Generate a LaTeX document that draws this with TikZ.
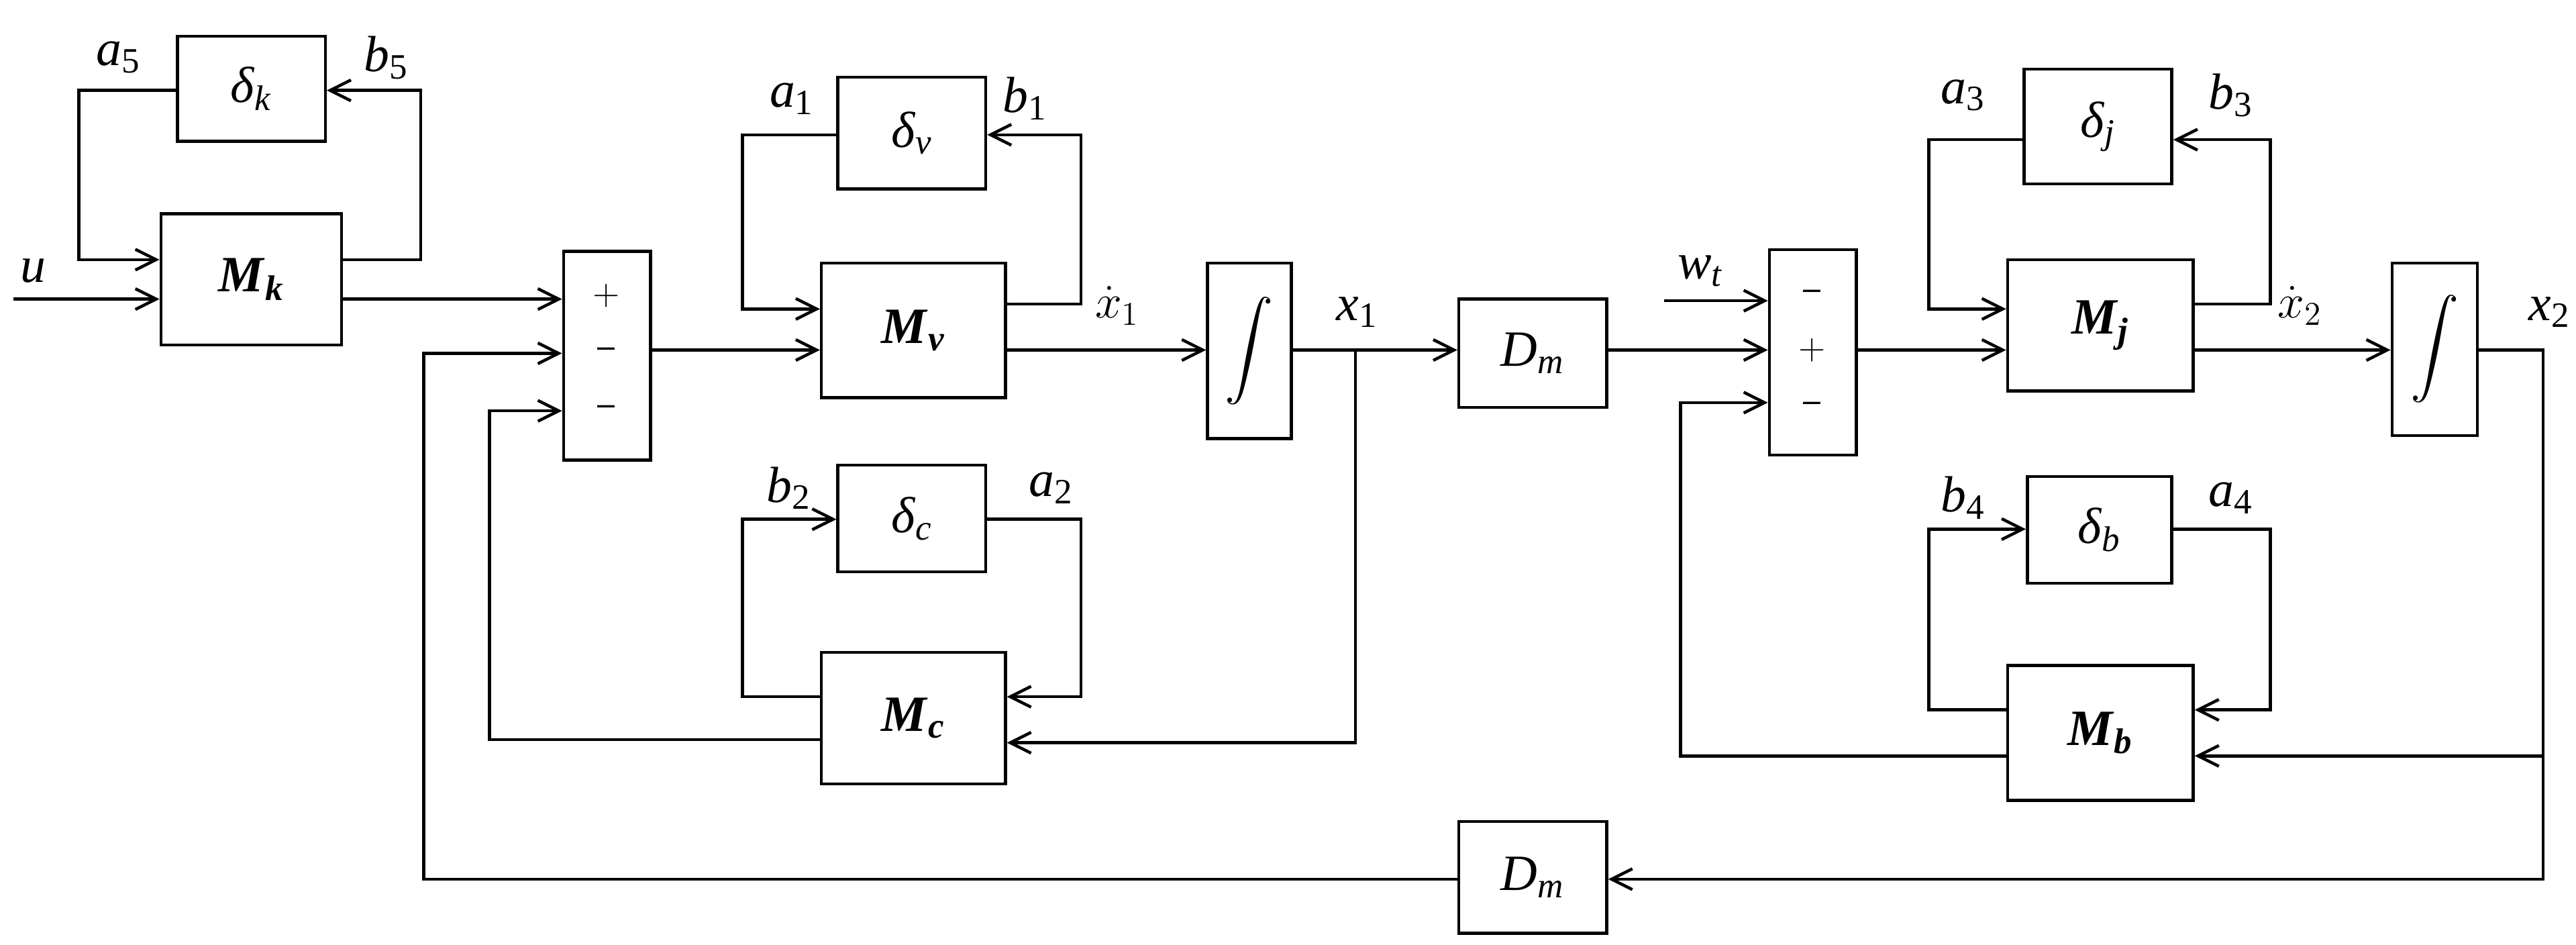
\documentclass[tikz,border=0pt]{standalone}
\usepackage{fontspec}
\setmainfont{Liberation Serif}
\usetikzlibrary{arrows.meta,calc}
\newcommand{\ii}[1]{\textit{#1}}
\newcommand{\bM}[1]{\textbf{\textit{M}}\textsubscript{\textbf{\textit{#1}}}}
\newcommand{\dl}[1]{\textit{δ}\textsubscript{\textit{#1}}}
\newcommand{\lab}[2]{\textit{#1}\textsubscript{#2}}
\newcommand{\bigint}{\scalebox{2.1}{$\displaystyle\int$}}
\begin{document}
\begin{tikzpicture}[x=0.025cm,y=-0.025cm,line width=1.3pt,
  ar/.style={-{Straight Barb[length=9pt,width=9pt]}},
  box/.style={draw,inner sep=0pt,font=\fontsize{22}{26}\selectfont},
  lb/.style={font=\fontsize{22}{26}\selectfont,inner sep=1pt},
  sg/.style={font=\sffamily\fontsize{16}{18}\selectfont}]
\useasboundingbox (0,0) rectangle (1568,575);
\newcommand{\bx}[6]{\node[box,minimum width={(#4-#2)*0.025cm},minimum height={(#5-#3)*0.025cm}] (#1) at ({(#2+#4)/2},{(#3+#5)/2}) {#6};}
\bx{dk}{108}{22}{198}{86}{\dl{k}}
\bx{Mk}{98}{130}{208}{210}{\bM{k}}
\bx{s1}{343}{153}{396}{280}{}
\bx{dv}{510}{47}{600}{115}{\dl{v}}
\bx{Mv}{500}{160}{612}{242}{\bM{v}}
\bx{i1}{735}{160}{786}{267}{\bigint}
\bx{D1}{888}{182}{978}{248}{\lab{D}{\ii{m}}}
\bx{s2}{1077}{152}{1130}{277}{}
\bx{dj}{1232}{42}{1322}{112}{\dl{j}}
\bx{Mj}{1222}{158}{1335}{238}{\bM{j}}
\bx{i2}{1456}{160}{1508}{265}{\bigint}
\bx{db}{1234}{290}{1322}{355}{\dl{b}}
\bx{Mb}{1222}{405}{1335}{487}{\bM{b}}
\bx{dc}{510}{283}{600}{348}{\dl{c}}
\bx{Mc}{500}{397}{612}{477}{\bM{c}}
\bx{D2}{888}{500}{978}{568}{\lab{D}{\ii{m}}}
% signs
\node[sg] at (369,180) {+}; \node[sg] at (369,215) {--}; \node[sg] at (369,250) {--};
\node[sg] at (1103,180) {--}; \node[sg] at (1103,213) {+}; \node[sg] at (1103,248) {--};
% labels
\node[lb] at (72,35) {\lab{a}{5}}; \node[lb] at (235,35) {\lab{b}{5}};
\node[lb] at (20,165) {\ii{u}};
\node[lb] at (482,60) {\lab{a}{1}}; \node[lb] at (624,60) {\lab{b}{1}};
\node[lb] at (480,297) {\lab{b}{2}}; \node[lb] at (640,297) {\lab{a}{2}};
\node[lb] at (680,186) {\fontsize{22}{26}\selectfont$\dot{x}_1$};
\node[lb] at (826,190) {\lab{x}{1}};
\node[lb] at (1035,165) {\lab{w}{\ii{t}}};
\node[lb] at (1195,58) {\lab{a}{3}}; \node[lb] at (1358,58) {\lab{b}{3}};
\node[lb] at (1195,303) {\lab{b}{4}}; \node[lb] at (1358,303) {\lab{a}{4}};
\node[lb] at (1400,186) {\fontsize{22}{26}\selectfont$\dot{x}_2$};
\node[lb] at (1552,190) {\lab{x}{2}};
\coordinate (uin) at (8,182);
\coordinate (wt) at (1013,183);
\coordinate (n1) at (825,213);
\coordinate (n2) at (1548,460);
% Mk loop
\draw[ar] (Mk.east|-{(0,158)}) -| (256,55) -- (dk.east|-{(0,55)});
\draw[ar] (dk.west|-{(0,55)}) -| (48,158) -- (Mk.west|-{(0,158)});
\draw[ar] (uin) -- (Mk.west|-uin);
\draw[ar] (Mk.east|-{(0,182)}) -- (s1.west|-{(0,182)});
\draw[ar] (s1.east|-{(0,213)}) -- (Mv.west|-{(0,213)});
% Mv loop
\draw[ar] (Mv.east|-{(0,185)}) -| (658,82) -- (dv.east|-{(0,82)});
\draw[ar] (dv.west|-{(0,82)}) -| (452,188) -- (Mv.west|-{(0,188)});
\draw[ar] (Mv.east|-{(0,213)}) -- (i1.west|-{(0,213)});
\draw[ar] (i1.east|-n1) -- (D1.west|-n1);
\draw[ar] (n1) |- (Mc.east|-{(0,452)});
% Mc loop
\draw[ar] (Mc.west|-{(0,424)}) -| (452,316) -- (dc.west|-{(0,316)});
\draw[ar] (dc.east|-{(0,316)}) -| (658,424) -- (Mc.east|-{(0,424)});
\draw[ar] (Mc.west|-{(0,450)}) -| (298,250) -- (s1.west|-{(0,250)});
% right part
\draw[ar] (D1.east|-{(0,213)}) -- (s2.west|-{(0,213)});
\draw[ar] (wt) -- (s2.west|-wt);
\draw[ar] (s2.east|-{(0,213)}) -- (Mj.west|-{(0,213)});
\draw[ar] (Mj.east|-{(0,185)}) -| (1382,85) -- (dj.east|-{(0,85)});
\draw[ar] (dj.west|-{(0,85)}) -| (1174,188) -- (Mj.west|-{(0,188)});
\draw[ar] (Mj.east|-{(0,213)}) -- (i2.west|-{(0,213)});
\draw (i2.east|-{(0,213)}) -| (n2);
\draw[ar] (n2) -- (Mb.east|-n2);
\draw[ar] (n2) |- (D2.east|-{(0,535)});
\draw[ar] (Mb.west|-{(0,432)}) -| (1174,322) -- (db.west|-{(0,322)});
\draw[ar] (db.east|-{(0,322)}) -| (1382,432) -- (Mb.east|-{(0,432)});
\draw[ar] (Mb.west|-{(0,460)}) -| (1023,245) -- (s2.west|-{(0,245)});
\draw[ar] (D2.west|-{(0,535)}) -| (258,215) -- (s1.west|-{(0,215)});
\end{tikzpicture}
\end{document}
